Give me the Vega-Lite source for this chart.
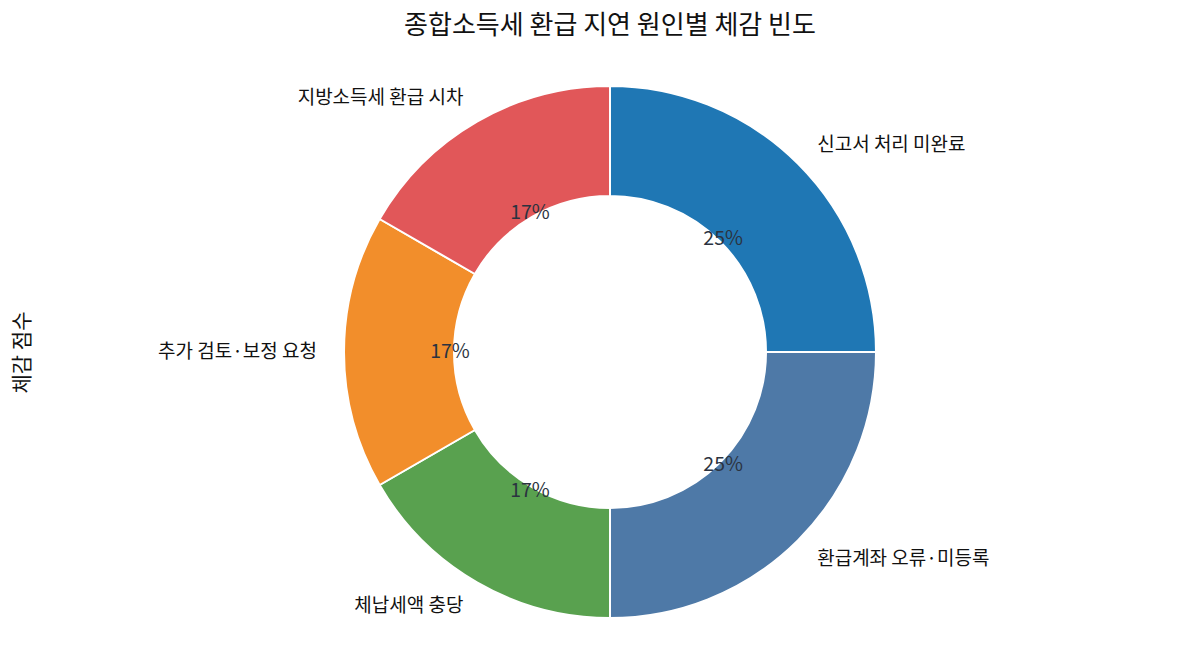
{
  "$schema": "https://vega.github.io/schema/vega-lite/v6.json",
  "width": 1185,
  "height": 660,
  "autosize": {"type": "fit", "contains": "padding"},
  "padding": {"left": 11, "top": 13, "right": 0, "bottom": 0},
  "background": "white",
  "config": {
    "view": {"stroke": null},
    "font": "Noto Sans CJK KR"
  },
  "title": {
    "text": "종합소득세 환급 지연 원인별 체감 빈도",
    "fontSize": 26,
    "fontWeight": "normal",
    "color": "#111111",
    "anchor": "middle",
    "frame": "group",
    "offset": 5
  },
  "data": {
    "values": [
      {"cause": "신고서 처리 미완료", "score": 3, "rank": 1, "pct": "25%"},
      {"cause": "환급계좌 오류·미등록", "score": 3, "rank": 2, "pct": "25%"},
      {"cause": "체납세액 충당", "score": 2, "rank": 3, "pct": "17%"},
      {"cause": "추가 검토·보정 요청", "score": 2, "rank": 4, "pct": "17%"},
      {"cause": "지방소득세 환급 시차", "score": 2, "rank": 5, "pct": "17%"}
    ]
  },
  "encoding": {
    "theta": {"field": "score", "type": "quantitative", "stack": true},
    "order": {"field": "rank", "type": "quantitative"}
  },
  "layer": [
    {
      "mark": {"type": "arc", "radius": 266, "radius2": 156, "stroke": "white", "strokeWidth": 2},
      "encoding": {
        "y": {
          "datum": 0,
          "type": "quantitative",
          "scale": {"domain": [-1, 1]},
          "axis": {
            "title": "체감 점수",
            "titleFontSize": 21,
            "titleFontWeight": "normal",
            "titleColor": "#111111",
            "titlePadding": 3,
            "labels": false,
            "ticks": false,
            "domain": false,
            "grid": false
          }
        },
        "color": {
          "field": "cause",
          "type": "nominal",
          "legend": null,
          "scale": {
            "domain": ["신고서 처리 미완료", "환급계좌 오류·미등록", "체납세액 충당", "추가 검토·보정 요청", "지방소득세 환급 시차"],
            "range": ["#1f77b4", "#4e79a7", "#59a14f", "#f28e2b", "#e15759"]
          }
        }
      }
    },
    {
      "mark": {"type": "text", "radius": 160, "fontSize": 19.5, "color": "#2b3340", "align": "center", "baseline": "middle"},
      "encoding": {"text": {"field": "pct"}}
    },
    {
      "mark": {"type": "text", "radius": 293, "fontSize": 19, "color": "#111111", "align": "left", "baseline": "middle"},
      "encoding": {
        "text": {
          "condition": {"test": "datum.rank <= 2", "field": "cause"},
          "value": ""
        }
      }
    },
    {
      "mark": {"type": "text", "radius": 293, "fontSize": 19, "color": "#111111", "align": "right", "baseline": "middle"},
      "encoding": {
        "text": {
          "condition": {"test": "datum.rank > 2", "field": "cause"},
          "value": ""
        }
      }
    }
  ]
}
